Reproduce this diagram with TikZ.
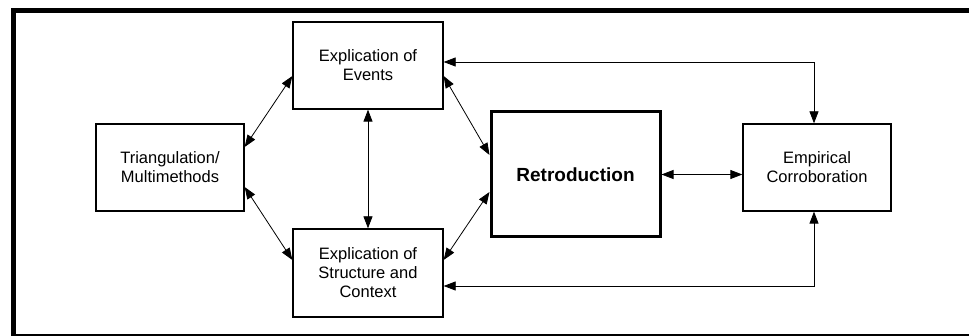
\documentclass[tikz,border=0pt]{standalone}
\usepackage{fontspec}
\setmainfont{Liberation Sans}
\usetikzlibrary{arrows.meta}
\begin{document}
\begin{tikzpicture}
    [x=1pt, y=-1pt, line width=0.8pt,
     box/.style={rectangle, draw, line width=1.3pt, align=center, font=\fontsize{16.5}{19}\selectfont, inner sep=0pt},
     link/.style={{Triangle[length=12pt,width=9pt]}-{Triangle[length=12pt,width=9pt]}}]
    \useasboundingbox (0,0) rectangle (969,336);
    %		frame
    \draw[line width=5pt] (13,10.5) rectangle (980,337);
    \node[box, minimum width=150pt, minimum height=87pt] (ev) at (368,65.5){Explication of\\Events};
    \node[box, minimum width=150pt, minimum height=88pt] (st) at (368,273){Explication of\\Structure and\\Context};
    \node[box, minimum width=148pt, minimum height=87pt] (tri) at (170,167.5){Triangulation/\\Multimethods};
    \node[box, minimum width=169pt, minimum height=125pt, line width=3pt, font=\fontsize{19}{22}\selectfont\bfseries] (ret) at (575.5,174.5){Retroduction};
    \node[box, minimum width=148pt, minimum height=87pt] (emp) at (817,167.5){Empirical\\Corroboration};
    \draw[link] ([yshift=20.5pt]tri.east) to ([yshift=-10.5pt]ev.west);
    \draw[link] ([yshift=-19.5pt]tri.east) to ([yshift=13pt]st.west);
    \draw[link] (ev) to (st);
    \draw[link] ([yshift=-10.5pt]ev.east) to ([yshift=19.5pt]ret.west);
    \draw[link] ([yshift=13pt]st.east) to ([yshift=-17.5pt]ret.west);
    \draw[link] (ret.east) to (ret.east -| emp.west);
    \draw[link] ([yshift=3.5pt]ev.east) -| ([xshift=-3pt]emp.north);
    \draw[link] ([yshift=-13pt]st.east) -| ([xshift=-3pt]emp.south);
    \end{tikzpicture}
\end{document}
